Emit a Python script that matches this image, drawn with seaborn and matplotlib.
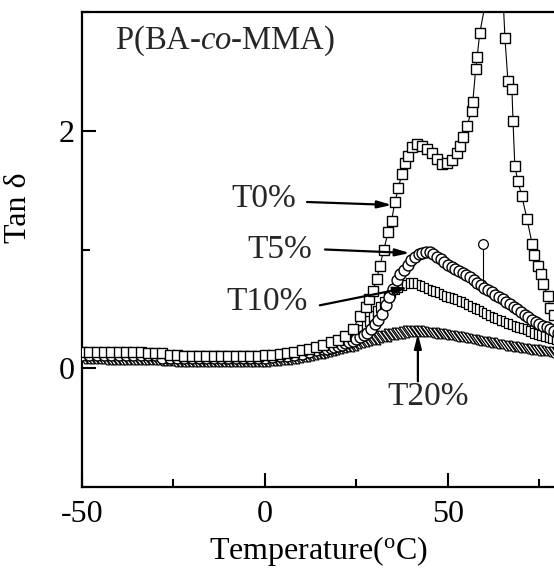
import matplotlib
matplotlib.use('Agg')
import matplotlib.pyplot as plt
import seaborn as sns
import pandas as pd
from matplotlib.path import Path
from matplotlib.ticker import MultipleLocator

# ---------------- data ----------------
t0_temp = [-50, -48, -46, -44, -42, -40, -38, -36, -34, -32, -30, -28, -26, -24, -22,
           -20, -18, -16, -14, -12, -10, -8, -6, -4, -2, 0, 2, 4, 6, 8, 10, 12, 14,
           16, 18, 20, 22, 24, 26, 27.5, 28.5, 29.5, 30.5, 31.4, 32.5, 33.7, 34.6,
           35.5, 36.5, 37.4, 38.2, 39, 40.2, 41.5, 42.9, 44.3, 45.6, 47, 48.4, 49.7,
           51, 52.4, 53.3, 54.1, 55.2, 56.5, 56.8, 57.6, 58.0, 58.7, 61, 63, 64.8,
           65.6, 66.4, 67.5, 67.8, 68.3, 69.1, 70.2, 71.6, 73, 73.5, 74.6, 75.4, 76,
           77.3, 77.9, 79]
t0_tan = [0.14, 0.14, 0.14, 0.14, 0.14, 0.14, 0.14, 0.135, 0.135, 0.13, 0.13, 0.125,
          0.115, 0.11, 0.105, 0.10, 0.10, 0.10, 0.10, 0.10, 0.10, 0.10, 0.10, 0.10,
          0.105, 0.11, 0.115, 0.12, 0.13, 0.14, 0.15, 0.165, 0.18,
          0.20, 0.22, 0.24, 0.27, 0.33, 0.44, 0.52, 0.58, 0.65, 0.75, 0.86, 1.0, 1.15,
          1.24, 1.40, 1.52, 1.64, 1.73, 1.79, 1.86, 1.89, 1.87, 1.85, 1.81, 1.76, 1.72,
          1.73, 1.75, 1.81, 1.87, 1.95, 2.04, 2.17, 2.24, 2.52, 2.62, 2.82, 3.2, 3.5,
          3.3, 2.78, 2.42, 2.35, 2.08, 1.70, 1.58, 1.45, 1.26, 1.05, 0.95, 0.86, 0.79,
          0.71, 0.61, 0.51, 0.45]

t5_temp = [-50, -48, -46, -44, -42, -40, -38, -36, -34, -32, -30, -28, -26, -24, -22,
           -20, -18, -16, -14, -12, -10, -8, -6, -4, -2, 0, 2, 4, 6, 8, 10, 12, 14,
           16, 17, 18, 19, 20, 21, 22, 23, 24, 25, 26, 27, 28, 29, 30, 31, 32, 33, 34,
           35, 36, 37, 38, 39, 40, 41, 42, 43, 44, 45, 46, 47, 48, 49, 50, 51, 52, 53,
           54, 55, 56, 57, 58, 59, 60, 61, 62, 63, 64, 65, 66, 67, 68, 69, 70, 71, 72,
           73, 74, 75, 76, 77, 78, 79, 80]
t5_tan = [0.11, 0.11, 0.11, 0.11, 0.11, 0.11, 0.11, 0.11, 0.11, 0.11, 0.11,
          0.09, 0.09, 0.09, 0.09, 0.09, 0.09, 0.09, 0.09, 0.09, 0.09, 0.09, 0.09, 0.09, 0.09,
          0.09, 0.095, 0.10, 0.105, 0.11, 0.12, 0.135, 0.15,
          0.16, 0.165, 0.17, 0.18, 0.19, 0.20, 0.21, 0.22, 0.23, 0.245, 0.26, 0.28, 0.30,
          0.33, 0.37, 0.41, 0.46, 0.53, 0.60, 0.67, 0.74, 0.79, 0.83, 0.87, 0.91, 0.94,
          0.96, 0.97, 0.975, 0.975, 0.96, 0.94, 0.92, 0.895, 0.87, 0.855, 0.84, 0.82,
          0.80, 0.785, 0.77, 0.745, 0.72, 0.70, 0.68, 0.66, 0.64, 0.62, 0.60, 0.58,
          0.56, 0.54, 0.52, 0.495, 0.47, 0.45, 0.43, 0.41, 0.39, 0.375, 0.36, 0.345,
          0.33, 0.315, 0.30]

# dense series (one reading per degree, -50 ... 80)
dense_temp = [-50, -49, -48, -47, -46, -45, -44, -43, -42, -41, -40, -39, -38, -37, -36,
              -35, -34, -33, -32, -31, -30, -29, -28, -27, -26, -25, -24, -23, -22, -21,
              -20, -19, -18, -17, -16, -15, -14, -13, -12, -11, -10, -9, -8, -7, -6, -5,
              -4, -3, -2, -1, 0, 1, 2, 3, 4, 5, 6, 7, 8, 9, 10, 11, 12, 13, 14, 15,
              16, 17, 18, 19, 20, 21, 22, 23, 24, 25, 26, 27, 28, 29, 30, 31, 32, 33, 34,
              35, 36, 37, 38, 39, 40, 41, 42, 43, 44, 45, 46, 47, 48, 49, 50, 51, 52, 53,
              54, 55, 56, 57, 58, 59, 60, 61, 62, 63, 64, 65, 66, 67, 68, 69, 70, 71, 72,
              73, 74, 75, 76, 77, 78, 79, 80]
t10_tan = [0.12, 0.12, 0.12, 0.12, 0.12, 0.12, 0.12, 0.12, 0.12, 0.12, 0.12, 0.12, 0.12,
           0.12, 0.12, 0.12, 0.12, 0.12, 0.12, 0.12, 0.12,
           0.10, 0.10, 0.10, 0.10, 0.10, 0.10, 0.10, 0.10, 0.10, 0.10, 0.10, 0.10, 0.10,
           0.10, 0.10, 0.10, 0.10, 0.10, 0.10, 0.10, 0.10, 0.10, 0.10, 0.10, 0.10, 0.10,
           0.10, 0.10, 0.10,
           0.10, 0.10, 0.105, 0.105, 0.11, 0.11, 0.115, 0.12, 0.125, 0.13, 0.135, 0.14,
           0.15, 0.155, 0.16, 0.165,
           0.17, 0.18, 0.19, 0.20, 0.21, 0.225, 0.24, 0.255, 0.27, 0.295, 0.32, 0.36,
           0.40, 0.44, 0.48, 0.52, 0.56, 0.59, 0.62, 0.645, 0.67, 0.685, 0.70, 0.715,
           0.72, 0.715, 0.70, 0.69, 0.675, 0.66, 0.65, 0.64, 0.625, 0.61, 0.60, 0.59,
           0.58, 0.57, 0.555, 0.54, 0.525, 0.51, 0.495, 0.48, 0.465, 0.45, 0.435, 0.42,
           0.41, 0.40, 0.385, 0.37, 0.36, 0.35, 0.34, 0.33, 0.315, 0.30, 0.29, 0.28,
           0.27, 0.26, 0.255, 0.25, 0.245]
t20_tan = [0.085, 0.085, 0.085, 0.085, 0.085, 0.085,
           0.08, 0.08, 0.08, 0.08, 0.08, 0.08, 0.08, 0.08, 0.08,
           0.075, 0.075, 0.075, 0.075, 0.075, 0.075,
           0.07, 0.07, 0.07, 0.07,
           0.065, 0.065, 0.065, 0.065, 0.065, 0.065, 0.065, 0.065, 0.065, 0.065, 0.065,
           0.065, 0.065, 0.065, 0.065, 0.065, 0.065, 0.065, 0.065, 0.065, 0.065, 0.065,
           0.065, 0.065, 0.065,
           0.065, 0.067, 0.07, 0.072, 0.075, 0.078, 0.08, 0.085, 0.09, 0.095, 0.10,
           0.105, 0.11, 0.118, 0.125, 0.132,
           0.14, 0.145, 0.15, 0.16, 0.17, 0.18, 0.185, 0.19, 0.20, 0.21, 0.22, 0.23,
           0.235, 0.245, 0.25, 0.26, 0.27, 0.275, 0.285, 0.29, 0.295, 0.30, 0.305, 0.31,
           0.31, 0.315, 0.315, 0.31, 0.31, 0.305, 0.30, 0.30, 0.295, 0.29, 0.285, 0.28,
           0.275, 0.27, 0.265, 0.26, 0.255, 0.25, 0.24, 0.235, 0.23, 0.225, 0.22, 0.215,
           0.21, 0.20, 0.195, 0.19, 0.185, 0.18, 0.175, 0.17, 0.165, 0.16, 0.155, 0.15,
           0.15, 0.145, 0.14, 0.14, 0.135]

# small isolated marker with stem (as in the picture)
pin_temp = [59.6, 59.6]
pin_tan = [0.73, 1.05]

labels = ["T0%", "T5%", "T10%", "T20%"]
label_xy = [(-0.3, 1.43), (4.1, 1.0), (0.5, 0.56), (44.5, -0.24)]
arrow_tail = [(11.5, 1.40), (16.4, 1.0), (15.0, 0.53), (41.8, -0.11)]
arrow_head = [(34.7, 1.375), (39.6, 0.97), (39.1, 0.68), (41.8, 0.29)]

# ---------------- style ----------------
sns.set_theme(style='ticks')
plt.rcParams['font.family'] = ['Liberation Serif', 'DejaVu Serif']
plt.rcParams['mathtext.fontset'] = 'custom'
plt.rcParams['mathtext.rm'] = 'Liberation Serif'
plt.rcParams['mathtext.it'] = 'Liberation Serif:italic'
plt.rcParams['axes.unicode_minus'] = False

fig = plt.figure(figsize=(5.54, 5.70), dpi=100)
ax = fig.add_axes([82 / 554, 1 - 487 / 570, (554 - 82) / 554, (487 - 12) / 570])

d5 = pd.DataFrame({"T": t5_temp, "tan": t5_tan})
dd = pd.DataFrame({"T": dense_temp, "t10": t10_tan, "t20": t20_tan})
d0 = pd.DataFrame({"T": t0_temp, "tan": t0_tan})

bar_marker = Path([(-0.4, -1), (0.4, -1), (0.4, 1), (-0.4, 1), (-0.4, -1)])
slash_marker = Path([(-1, 1), (-0.45, 1), (1, -1), (0.45, -1), (-1, 1)])

sns.scatterplot(data=dd, x="T", y="t20", marker=slash_marker, s=60, facecolor='white',
                edgecolor='black', linewidth=0.85, ax=ax, zorder=2)
sns.scatterplot(data=dd, x="T", y="t10", marker=bar_marker, s=55, facecolor='white',
                edgecolor='black', linewidth=0.9, ax=ax, zorder=3)
sns.scatterplot(data=d5, x="T", y="tan", marker='o', s=62, facecolor='white',
                edgecolor='black', linewidth=1.0, ax=ax, zorder=4)
sns.lineplot(data=d0, x="T", y="tan", sort=False, estimator=None, color='black',
             lw=0.8, marker='s', markersize=6.5, markerfacecolor='white',
             markeredgecolor='black', markeredgewidth=1.0, ax=ax, zorder=5)
ax.plot(pin_temp, pin_tan, color='black', lw=0.8, zorder=6)
ax.plot(pin_temp[1:], pin_tan[1:], 'o', ms=7, mfc='white', mec='black', mew=0.9, zorder=6)

for lab, xy, tail, head in zip(labels, label_xy, arrow_tail, arrow_head):
    ax.text(xy[0], xy[1], lab, fontsize=24, ha='center', va='center', zorder=7)
    ax.annotate('', xy=head, xytext=tail,
                arrowprops=dict(arrowstyle='-|>,head_length=0.7,head_width=0.18',
                                color='black', lw=1.6, shrinkA=0, shrinkB=0), zorder=7)

ax.text(-41, 2.69, 'P(BA-$\\mathit{co}$-MMA)', fontsize=23.5, ha='left', va='baseline')

ax.set_xlim(-50, 79)
ax.set_ylim(-1, 3)
ax.xaxis.set_major_locator(MultipleLocator(50))
ax.xaxis.set_minor_locator(MultipleLocator(25))
ax.yaxis.set_major_locator(MultipleLocator(2))
ax.yaxis.set_minor_locator(MultipleLocator(1))
ax.tick_params(which='both', direction='in', top=False, right=False, width=1.5,
               labelsize=23, color='black', labelcolor='black')
ax.tick_params(which='major', length=10)
ax.tick_params(which='minor', length=6)
ax.tick_params(axis='x', pad=9)
ax.tick_params(axis='y', pad=5)

for side in ['left', 'bottom', 'top']:
    ax.spines[side].set_linewidth(1.6)
    ax.spines[side].set_color('black')
ax.spines['right'].set_visible(False)

ax.set_xlabel('Temperature($^{\\mathregular{o}}$C)', fontsize=23, labelpad=4, color='black')
ax.set_ylabel('Tan δ', fontsize=23, color='black')
ax.yaxis.set_label_coords(-0.103, 0.587)
ax.set_facecolor('white')

fig.savefig('out.png', dpi=100, facecolor='white')
